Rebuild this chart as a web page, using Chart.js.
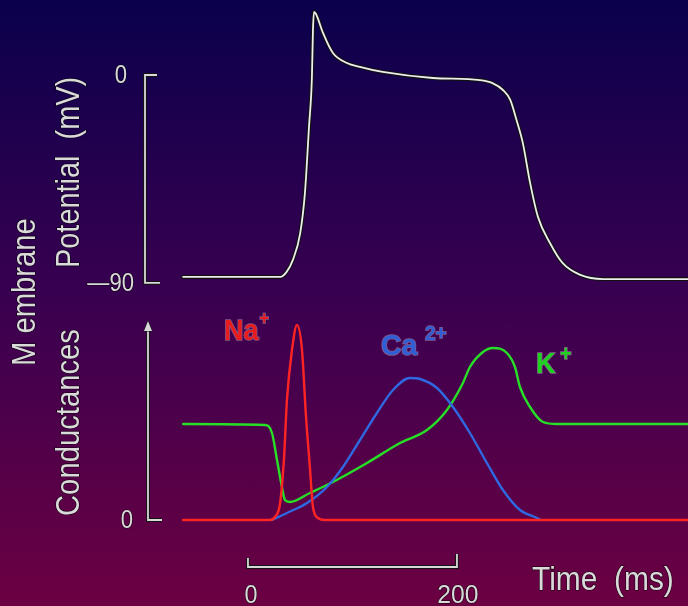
<!DOCTYPE html>
<html>
<head>
<meta charset="utf-8">
<script src="https://cdn.jsdelivr.net/npm/chart.js@4.4.1/dist/chart.umd.min.js"></script>
<style>
html,body{margin:0;padding:0;}
body{width:688px;height:606px;overflow:hidden;background:linear-gradient(to bottom,#0a004c 0%,#3a0050 50%,#6c0042 100%);}
canvas{display:block;}
</style>
</head>
<body>
<canvas id="c" width="688" height="606"></canvas>
<script>
// Time (ms) and membrane potential (mV)
const timeV = [-62, 31, 37, 43, 50, 54.5, 58.4, 61.2, 62.2, 63.2, 65.1, 71.8, 81.3, 94.7, 107, 129, 177, 222, 234, 244, 251, 257, 263, 270, 277.5, 289, 301, 318, 340, 421];
const potential = [-87.4, -87.4, -85.2, -80, -68.4, -51.1, -22.5, -0.9, 19.5, 27.3, 26.4, 18.2, 9.5, 5.2, 3.5, 1.3, -1.3, -2.2, -3.5, -6.5, -10.8, -19.5, -29.4, -46.7, -61.4, -72.7, -81.3, -86.5, -88.3, -88.3];

// Conductances (arbitrary units)
const timeNa = [-62, 21, 25.8, 30.6, 34.4, 37.3, 42.1, 46.9, 51.7, 55.5, 59.3, 62.2, 67, 73.7, 421];
const gNa = [0, 0, 1.5, 8, 30, 60, 85, 97.5, 85, 52, 26, 6.5, 1, 0, 0];

const timeK = [-62, 16.3, 23, 27.8, 32.5, 35.4, 40.2, 59.3, 81.3, 113.9, 145.5, 171.3, 190.4, 205.7, 212.4, 224.9, 234.4, 247.8, 255.5, 260.3, 269.9, 282.3, 295.7, 421];
const gK = [48, 47.5, 43.5, 30, 16.5, 10, 9, 13.5, 19, 28.5, 38.5, 45, 55, 68.5, 76.5, 84, 86, 83.5, 76.5, 66.5, 56.5, 49, 48, 48];

const timeCa = [23, 37.3, 56.5, 75.6, 90.9, 107.2, 123.4, 138.8, 155, 164.6, 180.9, 196.2, 212.4, 228.7, 244, 260.3, 276.6, 280];
const gCa = [0, 3.5, 8.5, 16.5, 26.5, 40, 53.5, 65, 71, 70.5, 66, 56.5, 43.5, 28.5, 15, 5, 1, 0];

// Axis labels / ticks
const vTicks = ['0', '\u201490'];
const vTickValues = [0, -90];
const gTickLabel = '0';
const timeBar = [0, 200];
const timeTickLabels = ['0', '200'];

const pts = (xs, ys) => xs.map((x, i) => ({x: x, y: ys[i]}));

const lineBase = {pointRadius: 0, borderJoinStyle: 'round', borderCapStyle: 'round', cubicInterpolationMode: 'monotone', fill: false};

function outlinedText(ctx, txt, x, y, sx) {
  ctx.save();
  ctx.translate(x, y);
  ctx.scale(sx, 1);
  ctx.lineWidth = 1.2;
  ctx.strokeStyle = 'rgba(0,0,0,0.85)';
  ctx.strokeText(txt, 0, 0);
  ctx.fillStyle = '#dadada';
  ctx.fillText(txt, 0, 0);
  ctx.restore();
}
function vertText(ctx, txt, x, y, sx) {
  ctx.save();
  ctx.translate(x, y);
  ctx.rotate(-Math.PI / 2);
  outlinedText(ctx, txt, 0, 0, sx);
  ctx.restore();
}
function bracketPath(ctx, pts) {
  ctx.beginPath();
  pts.forEach((p, i) => i ? ctx.lineTo(p[0], p[1]) : ctx.moveTo(p[0], p[1]));
  ctx.lineWidth = 3.8; ctx.strokeStyle = '#151515'; ctx.stroke();
  ctx.lineWidth = 1.8; ctx.strokeStyle = '#d8d8d8'; ctx.stroke();
}

const decor = {
  id: 'decor',
  afterDatasetsDraw(chart) {
    const ctx = chart.ctx;
    const sx = chart.scales.x, sv = chart.scales.yV, sg = chart.scales.yG;
    ctx.save();
    ctx.lineJoin = 'miter';
    // potential bracket
    const v0 = sv.getPixelForValue(vTickValues[0]), v1 = sv.getPixelForValue(vTickValues[1]);
    bracketPath(ctx, [[157, v0], [145, v0], [145, v1], [160, v1]]);
    // conductance axis with arrow
    const g0 = sg.getPixelForValue(0);
    bracketPath(ctx, [[148, 329], [148, g0], [162, g0]]);
    ctx.beginPath(); ctx.moveTo(148, 321); ctx.lineTo(144, 331); ctx.lineTo(152, 331); ctx.closePath();
    ctx.lineWidth = 1.2; ctx.strokeStyle = '#151515'; ctx.stroke();
    ctx.fillStyle = '#d8d8d8'; ctx.fill();
    // time bar
    const t0 = sx.getPixelForValue(timeBar[0]), t1 = sx.getPixelForValue(timeBar[1]);
    bracketPath(ctx, [[t0, 558], [t0, 567], [t1, 567], [t1, 554]]);

    // tick labels
    ctx.textBaseline = 'alphabetic';
    ctx.font = '26px "Liberation Sans", Arial, sans-serif';
    ctx.textAlign = 'center';
    outlinedText(ctx, vTicks[0], 121, v0 + 8, 0.85);
    ctx.textAlign = 'right';
    outlinedText(ctx, vTicks[1], 134, v1 + 8, 0.85);
    ctx.textAlign = 'center';
    outlinedText(ctx, gTickLabel, 127, g0 + 8, 0.85);
    outlinedText(ctx, timeTickLabels[0], t0 + 3, 603, 0.9);
    outlinedText(ctx, timeTickLabels[1], t1 + 1, 603, 0.95);

    ctx.font = '34px "Liberation Sans", Arial, sans-serif';
    ctx.textAlign = 'left';
    outlinedText(ctx, 'Time  (ms)', 532, 590, 0.88);

    // vertical titles
    ctx.font = '34px "Liberation Sans", Arial, sans-serif';
    ctx.textAlign = 'left';
    vertText(ctx, 'Potential  (mV)', 79, 268, 0.85);
    vertText(ctx, 'Conductances', 79, 516, 0.86);
    vertText(ctx, 'M embrane', 35, 366, 0.86);

    // ion labels
    const ion = (txt, sup, x, y, col, fs, sc, ss, sdx, sdy) => {
      ctx.save();
      ctx.font = 'bold ' + fs + 'px "Liberation Sans", Arial, sans-serif';
      ctx.textAlign = 'left';
      ctx.translate(x, y); ctx.scale(sc, 1);
      ctx.lineWidth = 1.5; ctx.strokeStyle = 'rgba(255,255,255,0.35)';
      ctx.strokeText(txt, 0, 0);
      ctx.fillStyle = col; ctx.fillText(txt, 0, 0);
      const w = ctx.measureText(txt).width;
      ctx.font = 'bold ' + ss + 'px "Liberation Sans", Arial, sans-serif';
      ctx.strokeText(sup, w + sdx, sdy);
      ctx.fillText(sup, w + sdx, sdy);
      ctx.restore();
    };
    ion('Na', '+', 224, 340, '#e81c1c', 30, 0.9, 18, 1, -16);
    ion('Ca', '2+', 381, 355, '#2f5fd6', 30, 0.95, 20, 8, -15);
    ion('K', '+', 536, 373, '#1fd21f', 30, 0.9, 22, 5, -12);
    ctx.restore();
  }
};

new Chart(document.getElementById('c'), {
  type: 'line',
  data: {
    datasets: [
      Object.assign({label: 'Na', data: pts(timeNa, gNa), yAxisID: 'yG', borderColor: '#ff2424', borderWidth: 2.4, order: 1}, lineBase),
      Object.assign({label: 'Ca', data: pts(timeCa, gCa), yAxisID: 'yG', borderColor: '#2f68e0', borderWidth: 2.4, order: 2}, lineBase),
      Object.assign({label: 'K', data: pts(timeK, gK), yAxisID: 'yG', borderColor: '#26e026', borderWidth: 2.4, order: 3}, lineBase),
      Object.assign({label: 'Vm', data: pts(timeV, potential), yAxisID: 'yV', borderColor: '#eeeeee', borderWidth: 1.8, order: 4}, lineBase),
      Object.assign({label: 'Vm outline', data: pts(timeV, potential), yAxisID: 'yV', borderColor: '#111111', borderWidth: 4, order: 5}, lineBase)
    ]
  },
  options: {
    responsive: false,
    devicePixelRatio: 1,
    animation: false,
    layout: {padding: 0},
    plugins: {legend: {display: false}, tooltip: {enabled: false}},
    scales: {
      x: {type: 'linear', min: -237.3, max: 421.1, display: false},
      yV: {type: 'linear', min: -229.8, max: 32.45, display: false},
      yG: {type: 'linear', min: -43, max: 260, display: false}
    }
  },
  plugins: [decor]
});
</script>
</body>
</html>
